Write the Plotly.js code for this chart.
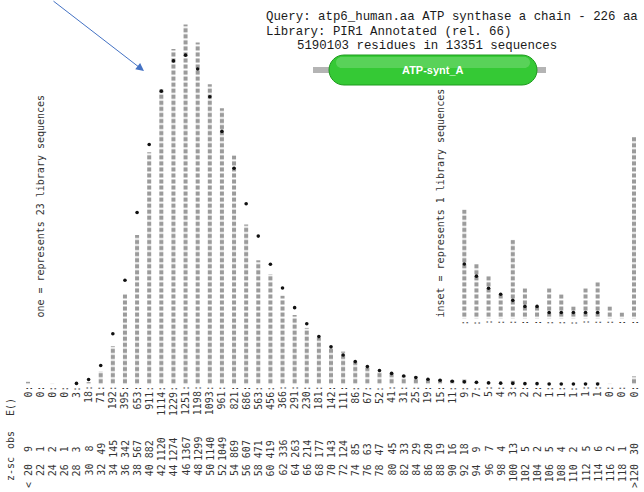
<!DOCTYPE html>
<html>
<head>
<meta charset="utf-8">
<script src="https://cdn.plot.ly/plotly-3.0.1.min.js"></script>
<style>html,body{margin:0;padding:0;background:#fff;}#chart{width:644px;height:492px;}</style>
</head>
<body>
<div id="chart"></div>
<script>
// ---- data (FASTA score histogram, rotated) ----
const zScores = [20,22,24,26,28,30,32,34,36,38,40,42,44,46,48,50,52,54,56,58,60,62,64,66,68,70,72,74,76,78,80,82,84,86,88,90,92,94,96,98,100,102,104,106,108,110,112,114,116,118,120];
const zLabels = ["< 20","22","24","26","28","30","32","34","36","38","40","42","44","46","48","50","52","54","56","58","60","62","64","66","68","70","72","74","76","78","80","82","84","86","88","90","92","94","96","98","100","102","104","106","108","110","112","114","116","118",">120"];
const observed = [9,1,2,1,3,8,49,145,342,567,882,1120,1274,1367,1299,1140,1049,869,607,471,419,336,263,214,177,143,124,85,63,47,45,33,29,20,19,16,18,9,7,4,13,5,2,5,4,2,5,6,2,1,30];
const expected = [0,0,0,0,3,18,71,192,395,653,911,1114,1229,1251,1198,1093,961,821,686,563,456,366,291,230,181,142,111,86,67,52,41,31,25,19,15,11,9,7,5,4,3,2,2,1,1,1,1,1,0,0,0];
const mainScaleText = "one = represents 23 library sequences";
const insetScaleText = "inset = represents 1 library sequences";
const headerLines = ["Query: atp6_human.aa ATP synthase a chain - 226 aa", "Library: PIR1 Annotated (rel. 66)", "5190103 residues in 13351 sequences"];
const domainName = "ATP-synt_A";
const seqPerChar = 23;      // main histogram scale
const insetSeqPerChar = 1;  // inset scale
const insetFrom = 92;       // first z-score drawn in the inset

// ---- geometry (pixels) ----
const W = 644, H = 492;
const X0 = 28, DX = 6.06;          // pixel of z=20, pixels per z unit
const CH = 6.05;                   // character pitch of the rotated text
const MAIN_BASE = 384.2, INSET_BASE = 318.5;
const Z_TOP = 463, OBS_MID = 449, E_TOP = 384.5;
const py = p => 1 - p / H;
const pxp = p => p / W;

const labelFont = {family: "DejaVu Sans Mono", size: 10, color: "#333"};
const gray = "#9b9b9b";
const pattern = {shape: "-", fgcolor: "#ffffff", bgcolor: gray, size: CH, solidity: 0.3, fillmode: "replace"};

const insetIdx = zScores.map((z, i) => i).filter(i => zScores[i] >= insetFrom);
const mainStarIdx = zScores.map((z, i) => i).filter(i => expected[i] > 0);
const insetStarIdx = insetIdx.filter(i => expected[i] > 0);

const traces = [
  {type: "bar", x: zScores, y: observed, width: 0.66, marker: {color: gray, pattern: pattern, line: {width: 0}}, hoverinfo: "skip"},
  {type: "scatter", mode: "markers", x: mainStarIdx.map(i => zScores[i]), y: mainStarIdx.map(i => expected[i]),
   marker: {symbol: "circle", size: 3.6, color: "#111"}, hoverinfo: "skip"},
  {type: "bar", x: insetIdx.map(i => zScores[i]), y: insetIdx.map(i => observed[i]), yaxis: "y2", width: 0.66,
   marker: {color: gray, pattern: pattern, line: {width: 0}}, hoverinfo: "skip"},
  {type: "scatter", mode: "markers", x: insetStarIdx.map(i => zScores[i]), y: insetStarIdx.map(i => expected[i]), yaxis: "y2",
   marker: {symbol: "circle", size: 3.6, color: "#111"}, hoverinfo: "skip"}
];

const ann = [];
zScores.forEach((z, i) => {
  ann.push({x: z, xref: "x", y: py(Z_TOP), yref: "paper", xanchor: "center", yanchor: "top", text: zLabels[i], textangle: -90, showarrow: false, font: labelFont, borderpad: 0});
  ann.push({x: z, xref: "x", y: py(OBS_MID), yref: "paper", xanchor: "center", yanchor: "middle", text: String(observed[i]), textangle: -90, showarrow: false, font: labelFont, borderpad: 0});
  ann.push({x: z, xref: "x", y: py(E_TOP), yref: "paper", xanchor: "center", yanchor: "top", text: expected[i] + ":", textangle: -90, showarrow: false, font: labelFont, borderpad: 0});
});
insetIdx.forEach(i => {
  ann.push({x: zScores[i], xref: "x", y: py(INSET_BASE), yref: "paper", xanchor: "center", yanchor: "top", text: ":", textangle: -90, showarrow: false, font: labelFont, borderpad: 0});
});
// column headers
ann.push({x: pxp(10), xref: "paper", y: py(469), yref: "paper", xanchor: "center", yanchor: "middle", text: "z-sc", textangle: -90, showarrow: false, font: labelFont, borderpad: 0});
ann.push({x: pxp(10), xref: "paper", y: py(440), yref: "paper", xanchor: "center", yanchor: "middle", text: "obs", textangle: -90, showarrow: false, font: labelFont, borderpad: 0});
ann.push({x: pxp(10), xref: "paper", y: py(407), yref: "paper", xanchor: "center", yanchor: "middle", text: "E()", textangle: -90, showarrow: false, font: labelFont, borderpad: 0});
// scale notes
ann.push({x: 22, xref: "x", y: py(319), yref: "paper", xanchor: "center", yanchor: "bottom", text: mainScaleText, textangle: -90, showarrow: false, font: labelFont, borderpad: 0});
ann.push({x: 88, xref: "x", y: py(319), yref: "paper", xanchor: "center", yanchor: "bottom", text: insetScaleText, textangle: -90, showarrow: false, font: labelFont, borderpad: 0});
// query header
const hFont = {family: "Liberation Mono", size: 12.4, color: "#1a1a1a"};
ann.push({x: pxp(265), xref: "paper", y: py(17), yref: "paper", xanchor: "left", yanchor: "middle", text: headerLines[0], showarrow: false, font: hFont, borderpad: 0});
ann.push({x: pxp(265), xref: "paper", y: py(32), yref: "paper", xanchor: "left", yanchor: "middle", text: headerLines[1], showarrow: false, font: hFont, borderpad: 0});
ann.push({x: pxp(296), xref: "paper", y: py(46), yref: "paper", xanchor: "left", yanchor: "middle", text: headerLines[2], showarrow: false, font: hFont, borderpad: 0});
// domain label
ann.push({x: pxp(433), xref: "paper", y: py(70), yref: "paper", xanchor: "center", yanchor: "middle", text: "<b>" + domainName + "</b>", showarrow: false, font: {family: "Liberation Sans", size: 11, color: "#ffffff"}, borderpad: 0});
// blue arrow
ann.push({x: pxp(144), xref: "paper", y: py(71), yref: "paper", ax: 52 - 144, ay: -2 - 71, axref: "pixel", ayref: "pixel", text: "", showarrow: true,
  arrowhead: 2, arrowsize: 1.6, arrowwidth: 1, arrowcolor: "#4472c4"});

// pill shape (stadium) in paper coords
function stadium(x0, y0, x1, y1) {
  const r = (y1 - y0) / 2, k = 0.5523 * r;
  const P = (x, y) => pxp(x) + "," + py(y);
  return "M" + P(x0 + r, y0) + " L" + P(x1 - r, y0) +
    " C" + P(x1 - r + k, y0) + " " + P(x1, y0 + r - k) + " " + P(x1, y0 + r) +
    " C" + P(x1, y0 + r + k) + " " + P(x1 - r + k, y1) + " " + P(x1 - r, y1) +
    " L" + P(x0 + r, y1) +
    " C" + P(x0 + r - k, y1) + " " + P(x0, y0 + r + k) + " " + P(x0, y0 + r) +
    " C" + P(x0, y0 + r - k) + " " + P(x0 + r - k, y0) + " " + P(x0 + r, y0) + " Z";
}
const shapes = [
  {type: "rect", xref: "paper", yref: "paper", x0: pxp(313), x1: pxp(546), y0: py(73), y1: py(67), fillcolor: "#b4b4b4", line: {width: 0}},
  {type: "path", xref: "paper", yref: "paper", path: stadium(329, 55, 537, 85), fillcolor: "#35c935", line: {color: "#1f9a1f", width: 1}},
  {type: "path", xref: "paper", yref: "paper", path: stadium(336, 57, 530, 68), fillcolor: "rgba(255,255,255,0.18)", line: {width: 0}}
];

const layout = {
  width: W, height: H, margin: {l: 0, r: 0, t: 0, b: 0},
  paper_bgcolor: "#ffffff", plot_bgcolor: "#ffffff",
  showlegend: false, hovermode: false, barmode: "overlay",
  xaxis: {range: [20 - X0 / DX, 20 + (W - X0) / DX], visible: false, fixedrange: true},
  yaxis: {range: [-(H - MAIN_BASE) / CH * seqPerChar, MAIN_BASE / CH * seqPerChar], visible: false, fixedrange: true},
  yaxis2: {range: [-(H - INSET_BASE) / CH * insetSeqPerChar, INSET_BASE / CH * insetSeqPerChar], overlaying: "y", visible: false, fixedrange: true},
  annotations: ann, shapes: shapes
};
Plotly.newPlot("chart", traces, layout, {displayModeBar: false, staticPlot: true});
</script>
</body>
</html>
